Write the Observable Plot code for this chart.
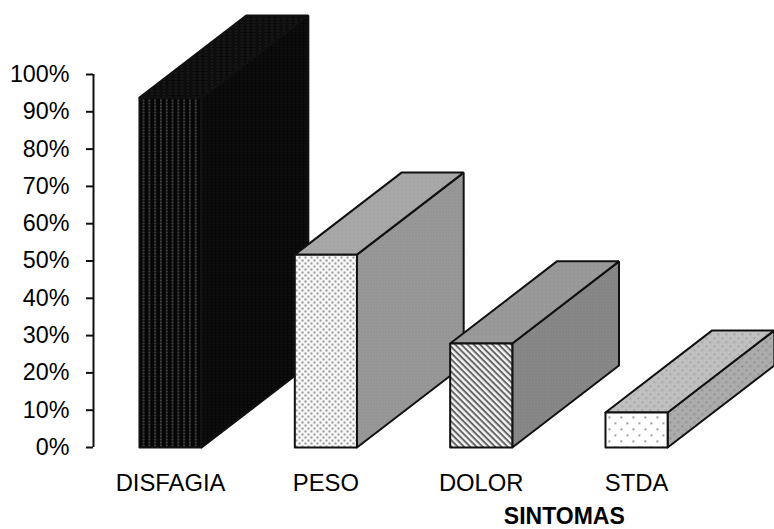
<!DOCTYPE html>
<html>
<head>
<meta charset="utf-8">
<script src="https://cdn.jsdelivr.net/npm/d3@7"></script>
<script src="https://cdn.jsdelivr.net/npm/@observablehq/plot@0.6"></script>
<style>
  html, body { margin: 0; padding: 0; background: #fff; }
  svg { display: block; overflow: visible; }
</style>
</head>
<body>
<div id="chart"></div>
<script>
// Symptom shares, in percent
const categories = ["DISFAGIA", "PESO", "DOLOR", "STDA"];
const values = [93.8, 51.7, 27.9, 9.4];
const yTicks = [0, 10, 20, 30, 40, 50, 60, 70, 80, 90, 100];
const xTitle = "SINTOMAS";

// Box proportions in data units: front width, and the oblique depth offset
const boxWidth = 0.4;
const depthX = 0.687;
const depthY = 22;

const faceFills = [
  {front: "url(#p-stripes-black)", top: "url(#p-dark-top)", side: "url(#p-dark-side)"},
  {front: "url(#p-dots-dense)", top: "url(#p-gray-light)", side: "url(#p-gray-side)"},
  {front: "url(#p-diagonal)", top: "url(#p-gray-mid)", side: "url(#p-gray-dark)"},
  {front: "url(#p-dots-sparse)", top: "url(#p-dots-top)", side: "url(#p-dots-side)"}
];

const defs = () => {
  const ns = "http://www.w3.org/2000/svg";
  const g = document.createElementNS(ns, "g");
  g.innerHTML = `<defs>
    <pattern id="p-stripes-black" width="5.8" height="3" patternUnits="userSpaceOnUse">
      <rect width="5.8" height="3" fill="#060606"/>
      <rect x="3" width="1.6" height="2" fill="#4c4c4c"/>
    </pattern>
    <pattern id="p-dark-top" width="6" height="3" patternUnits="userSpaceOnUse">
      <rect width="6" height="3" fill="#0c0c0c"/>
      <rect width="3" height="1" fill="#222"/>
    </pattern>
    <pattern id="p-dark-side" width="4" height="3" patternUnits="userSpaceOnUse">
      <rect width="4" height="3" fill="#080808"/>
      <rect width="2" height="1" fill="#181818"/>
    </pattern>
    <pattern id="p-dots-dense" width="6" height="6" patternUnits="userSpaceOnUse">
      <rect width="6" height="6" fill="#f8f8f8"/>
      <rect x="1" y="1" width="2" height="2" fill="#959595"/>
      <rect x="4" y="4" width="2" height="2" fill="#959595"/>
    </pattern>
    <pattern id="p-gray-light" width="4" height="4" patternUnits="userSpaceOnUse">
      <rect width="4" height="4" fill="#a8a8a8"/>
      <rect x="1" y="1" width="1.5" height="1.5" fill="#9e9e9e"/>
    </pattern>
    <pattern id="p-gray-side" width="3" height="3" patternUnits="userSpaceOnUse">
      <rect width="3" height="3" fill="#989898"/>
      <rect x="1" y="1" width="1" height="1" fill="#888"/>
    </pattern>
    <pattern id="p-diagonal" width="4.4" height="4.4" patternUnits="userSpaceOnUse" patternTransform="rotate(45)">
      <rect width="4.4" height="4.4" fill="#f6f6f6"/>
      <rect width="4.4" height="2" fill="#666"/>
    </pattern>
    <pattern id="p-gray-mid" width="4" height="4" patternUnits="userSpaceOnUse">
      <rect width="4" height="4" fill="#9a9a9a"/>
      <rect x="1" y="1" width="1.5" height="1.5" fill="#8e8e8e"/>
    </pattern>
    <pattern id="p-gray-dark" width="3" height="3" patternUnits="userSpaceOnUse">
      <rect width="3" height="3" fill="#888"/>
      <rect x="1" y="1" width="1" height="1" fill="#767676"/>
    </pattern>
    <pattern id="p-dots-sparse" width="12" height="12" patternUnits="userSpaceOnUse">
      <rect width="12" height="12" fill="#fff"/>
      <rect x="2" y="2" width="1.6" height="1.6" fill="#666"/>
      <rect x="8" y="8" width="1.6" height="1.6" fill="#666"/>
    </pattern>
    <pattern id="p-dots-top" width="8" height="8" patternUnits="userSpaceOnUse">
      <rect width="8" height="8" fill="#c0c0c0"/>
      <rect x="1" y="1" width="1.6" height="1.6" fill="#999"/>
      <rect x="5" y="5" width="1.6" height="1.6" fill="#999"/>
    </pattern>
    <pattern id="p-dots-side" width="8" height="8" patternUnits="userSpaceOnUse">
      <rect width="8" height="8" fill="#ababab"/>
      <rect x="1" y="1" width="1.6" height="1.6" fill="#808080"/>
      <rect x="5" y="5" width="1.6" height="1.6" fill="#808080"/>
    </pattern>
  </defs>`;
  return g;
};

// Closed polygon drawn through the line mark, filled with a pattern
const face = (points, fill) =>
  Plot.line(points.concat([points[0]]), {
    x: "x", y: "y", fill, stroke: "#111", strokeWidth: 2,
    strokeLinejoin: "miter", curve: "linear"
  });

const boxes = categories.flatMap((name, i) => {
  const x0 = i, x1 = i + boxWidth, v = values[i];
  const f = faceFills[i];
  return [
    face([{x: x1, y: 0}, {x: x1 + depthX, y: depthY}, {x: x1 + depthX, y: v + depthY}, {x: x1, y: v}], f.side),
    face([{x: x0, y: v}, {x: x1, y: v}, {x: x1 + depthX, y: v + depthY}, {x: x0 + depthX, y: v + depthY}], f.top),
    face([{x: x0, y: 0}, {x: x1, y: 0}, {x: x1, y: v}, {x: x0, y: v}], f.front)
  ];
});

const chart = Plot.plot({
  width: 774,
  height: 529,
  marginLeft: 93,
  marginRight: 0,
  marginTop: 74,
  marginBottom: 82,
  style: {fontFamily: "'Liberation Sans', Arial, sans-serif", background: "#fff", overflow: "visible"},
  x: {domain: [-0.296, 4.088], axis: null},
  y: {domain: [0, 100], axis: null},
  marks: [
    defs,
    ...boxes,
    Plot.ruleX([-0.296], {y1: 0, y2: 100, stroke: "#111", strokeWidth: 2}),
    Plot.axisY({
      ticks: yTicks, tickFormat: d => d + "%", tickSize: 7, tickPadding: 17,
      stroke: "#111", strokeWidth: 2, fontSize: 23.3, fill: "#000", label: null
    }),
    Plot.axisX({
      anchor: "bottom",
      ticks: categories.map((_, i) => i + boxWidth / 2),
      tickFormat: d => categories[Math.round(d - boxWidth / 2)],
      tickSize: 0, tickPadding: 27, fontSize: 23.8, fill: "#000", label: null
    }),
    Plot.text([xTitle], {
      x: [2.735], y: [0], dy: 69, text: d => d,
      fontSize: 23, fontWeight: "bold", fill: "#000"
    })
  ]
});
document.getElementById("chart").append(chart);
</script>
</body>
</html>
